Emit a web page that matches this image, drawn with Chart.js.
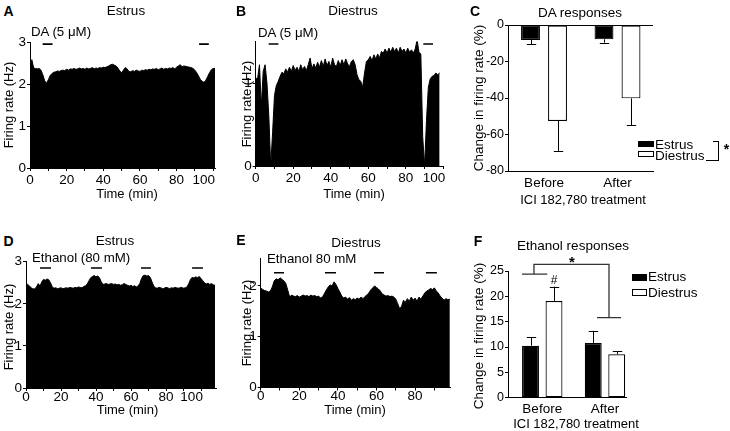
<!DOCTYPE html>
<html><head><meta charset="utf-8">
<script src="https://cdn.jsdelivr.net/npm/chart.js@4.4.1/dist/chart.umd.min.js"></script>
<style>
body{margin:0;background:#fff;}
#root{position:relative;width:730px;height:431px;overflow:hidden;font-family:"Liberation Sans",Arial,Helvetica,sans-serif;color:#000;background:#fff;}
canvas{position:absolute;}
.t{position:absolute;white-space:nowrap;transform:translate(-50%,-50%);line-height:1;}
.l{position:absolute;white-space:nowrap;transform:translate(0,-50%);line-height:1;}
.v{position:absolute;white-space:nowrap;transform:translate(-50%,-50%) rotate(-90deg);line-height:1;}
.box{position:absolute;box-sizing:border-box;}
</style></head><body><div id="root"></div>
<script>
// ---------------- DATA ----------------
// Firing-rate histograms (Hz), one value per minute
const estrusDA = [2.37,2.58,2.38,2.37,2.36,2.37,2.33,2.22,2.08,2.02,
 2.10,2.20,2.25,2.28,2.29,2.31,2.30,2.32,2.33,2.32,
 2.35,2.33,2.36,2.35,2.37,2.35,2.36,2.38,2.36,2.37,
 2.35,2.38,2.36,2.37,2.39,2.36,2.38,2.37,2.39,2.38,
 2.40,2.39,2.41,2.43,2.46,2.47,2.45,2.43,2.38,2.31,
 2.27,2.33,2.39,2.36,2.30,2.29,2.32,2.30,2.33,2.31,
 2.30,2.33,2.32,2.34,2.33,2.35,2.34,2.36,2.35,2.37,
 2.34,2.36,2.38,2.35,2.37,2.36,2.38,2.37,2.39,2.36,
 2.40,2.43,2.46,2.41,2.43,2.42,2.41,2.40,2.39,2.37,
 2.33,2.27,2.19,2.11,2.06,2.04,2.09,2.18,2.27,2.34,
 2.37,2.37];
const diestrusDA = [1.06,1.05,1.22,0.72,1.14,1.22,1.00,0.60,0.00,0.40,
 0.85,0.97,1.02,1.08,1.13,1.11,1.17,1.13,1.19,1.14,
 1.21,1.15,1.19,1.14,1.22,1.16,1.20,1.15,1.22,1.30,
 1.17,1.23,1.18,1.25,1.19,1.27,1.20,1.29,1.21,1.26,
 1.19,1.30,1.22,1.20,1.27,1.21,1.28,1.22,1.29,1.23,
 1.20,1.26,1.28,1.22,1.10,1.04,1.02,0.95,1.12,1.26,
 1.28,1.32,1.27,1.34,1.29,1.35,1.30,1.38,1.36,1.41,
 1.36,1.42,1.37,1.43,1.38,1.42,1.36,1.43,1.38,1.41,
 1.36,1.42,1.37,1.40,1.36,1.41,1.52,1.37,1.35,0.35,
 0.00,0.55,0.95,1.05,1.08,1.09,1.12,1.10,1.12];
const estrusEtOH = [2.48,2.46,2.42,2.38,2.35,2.36,2.40,2.48,2.42,2.52,
 2.58,2.56,2.59,2.57,2.50,2.40,2.37,2.38,2.36,2.37,
 2.38,2.36,2.37,2.38,2.37,2.39,2.38,2.37,2.39,2.38,
 2.40,2.39,2.38,2.41,2.43,2.47,2.55,2.62,2.65,2.67,
 2.64,2.66,2.62,2.52,2.46,2.47,2.48,2.46,2.47,2.48,
 2.46,2.47,2.45,2.46,2.44,2.45,2.48,2.46,2.44,2.42,
 2.44,2.41,2.43,2.40,2.42,2.48,2.60,2.67,2.68,2.66,
 2.67,2.63,2.52,2.42,2.38,2.37,2.39,2.38,2.36,2.37,
 2.39,2.38,2.36,2.38,2.37,2.39,2.38,2.37,2.38,2.39,
 2.37,2.38,2.40,2.48,2.58,2.63,2.61,2.64,2.62,2.65,
 2.60,2.55,2.50,2.47,2.49,2.46,2.48,2.45,2.44];
const diestrusEtOH = [1.96,1.93,1.91,1.90,1.88,1.90,1.98,2.10,2.14,2.12,
 2.16,2.13,2.10,2.05,1.92,1.78,1.82,1.80,1.79,1.81,
 1.78,1.80,1.82,1.80,1.81,1.79,1.82,1.80,1.81,1.79,
 1.80,1.76,1.78,1.85,1.92,1.98,2.02,2.00,2.08,2.03,
 1.95,1.88,1.80,1.76,1.78,1.74,1.77,1.72,1.75,1.73,
 1.76,1.74,1.78,1.75,1.79,1.82,1.86,1.92,1.96,2.00,
 1.97,1.94,1.90,1.84,1.82,1.80,1.81,1.79,1.80,1.78,
 1.74,1.65,1.55,1.60,1.72,1.68,1.75,1.70,1.78,1.72,
 1.76,1.70,1.78,1.74,1.80,1.86,1.90,1.92,1.95,1.93,
 1.96,1.90,1.86,1.80,1.76,1.72,1.75,1.73,1.74];

// Drug application periods (min)
const daEstrusApps = [[6.9,12.3],[92.3,97.6]];
const daDiestrusApps = [[6.9,12.1],[89.3,94.5]];
const etohEstrusApps = [[8.0,14.3],[37.1,43.4],[65.7,71.4],[94.9,101.1]];
const etohDiestrusApps = [[6.9,12.1],[33.3,39.0],[58.7,63.9],[85.6,91.3]];

// Summary bar data (% change), before/after ICI 182,780
const categories = ['Before','After'];
const daEstrusMean = [-8.2,-7.85];
const daEstrusSem = [2.4,1.85];
const daDiestrusMean = [-52.6,-40.2];
const daDiestrusSem = [16.4,14.6];
const etEstrusMean = [10.26,10.8];
const etEstrusSem = [1.65,2.4];
const etDiestrusMean = [19.07,8.56];
const etDiestrusSem = [2.85,0.65];
const seriesNames = ['Estrus','Diestrus'];

// ---------------- RENDER ----------------
const FONT = '"Liberation Sans", Arial, Helvetica, sans-serif';
Chart.defaults.font.family = FONT;
Chart.defaults.font.size = 13;
Chart.defaults.color = '#000';
const root = document.getElementById('root');

function addText(cls, x, y, s, size, extra) {
  const d = document.createElement('div');
  d.className = cls; d.textContent = s;
  d.style.left = x + 'px'; d.style.top = y + 'px';
  d.style.fontSize = size + 'px';
  if (extra) Object.assign(d.style, extra);
  root.appendChild(d);
}
function addBox(x, y, w, h, style) {
  const d = document.createElement('div');
  d.className = 'box';
  Object.assign(d.style, {left: x + 'px', top: y + 'px', width: w + 'px', height: h + 'px'}, style);
  root.appendChild(d);
}
function makeCanvas(a, yW, xH, padT, padR) {
  const c = document.createElement('canvas');
  const left = Math.round(a.l - yW), top = Math.round(a.t - padT);
  const w = Math.round(a.r + padR - left), h = Math.round(a.b + xH - top);
  c.width = w; c.height = h;
  c.style.left = left + 'px'; c.style.top = top + 'px';
  c.style.width = w + 'px'; c.style.height = h + 'px';
  root.appendChild(c);
  return {c, yW: a.l - left, xH: top + h - a.b, padT: a.t - top, padR: left + w - a.r};
}
function baseOptions(g, scales) {
  return {
    responsive: false, animation: false, devicePixelRatio: 1, events: [],
    layout: {padding: {top: g.padT, right: g.padR, left: 0, bottom: 0}},
    plugins: {legend: {display: false}, tooltip: {enabled: false}},
    scales
  };
}
const axisBorder = {display: true, color: '#000', width: 1};

// last label of the time axes sits slightly left of its tick in the original
const timeLabel = v => (v % 20 !== 0 ? '' : (v === 100 ? '100     ' : String(v)));

function timeChart(o) {
  const g = makeCanvas(o.area, 24, 28, 12, 16);
  const pts = o.values.map((v, i) => ({x: i, y: v}));
  const drug = [];
  o.drugs.forEach(([a, b]) => { drug.push({x: a, y: o.drugY}, {x: b, y: o.drugY}, {x: b, y: null}); });
  new Chart(g.c, {
    type: 'line',
    data: {datasets: [
      {data: pts, borderColor: '#000', backgroundColor: '#000', borderWidth: 1, fill: 'origin', pointRadius: 0, tension: 0},
      {data: drug, borderColor: '#000', borderWidth: 1.7, pointRadius: 0, fill: false, spanGaps: false, clip: false}
    ]},
    options: baseOptions(g, {
      x: {type: 'linear', min: 0, max: o.xMax, offset: false, afterFit: s => { s.height = g.xH; },
        border: axisBorder,
        grid: {display: true, drawOnChartArea: false, drawTicks: true, tickLength: 3, color: '#000', lineWidth: 1},
        ticks: {stepSize: 10, includeBounds: false, autoSkip: false, maxRotation: 0, padding: o.xPad,
          font: {size: 13.5}, callback: timeLabel}},
      y: {type: 'linear', min: 0, max: o.yMax, afterFit: s => { s.width = g.yW; },
        border: axisBorder,
        grid: {display: true, drawOnChartArea: false, drawTicks: true, tickLength: 3, color: '#000', lineWidth: 1},
        ticks: {stepSize: 1, includeBounds: false, padding: 1, font: {size: 13.5}}}
    })
  });
}

const errorBars = {
  id: 'errorBars',
  afterDatasetsDraw(chart) {
    const ctx = chart.ctx, ys = chart.scales.y;
    chart.data.datasets.forEach((ds, di) => {
      const meta = chart.getDatasetMeta(di);
      ds.sem.forEach((s, i) => {
        const el = meta.data[i];
        const m = ds.data[i].y;
        const end = ys.getPixelForValue(m < 0 ? m - s : m + s);
        const x = Math.round(el.x) + 0.5;
        ctx.save();
        ctx.strokeStyle = '#000'; ctx.lineWidth = 1;
        ctx.beginPath();
        ctx.moveTo(x, el.y); ctx.lineTo(x, end);
        ctx.moveTo(x - 4.7, Math.round(end) + 0.5); ctx.lineTo(x + 4.7, Math.round(end) + 0.5);
        ctx.stroke();
        ctx.restore();
      });
    });
  }
};

function barChart(o) {
  const g = makeCanvas(o.area, 30, 22, o.padT, 8);
  const mk = (i, means, sems, fill) => ({
    label: seriesNames[i],
    data: categories.map((c, k) => ({x: k + 1, y: means[k]})),
    sem: sems,
    backgroundColor: fill, borderColor: '#000', borderWidth: 1.2, borderSkipped: false,
    categoryPercentage: o.catPct, barPercentage: o.barPct
  });
  new Chart(g.c, {
    type: 'bar',
    data: {datasets: [mk(0, o.m1, o.s1, '#000'), mk(1, o.m2, o.s2, '#fff')]},
    options: baseOptions(g, {
      x: {type: 'linear', min: o.xMin, max: o.xMax, offset: false, afterFit: s => { s.height = g.xH; },
        afterBuildTicks: s => { s.ticks = categories.map((c, k) => ({value: k + 1})); },
        border: axisBorder,
        grid: {display: false, drawTicks: false, offset: false},
        ticks: {padding: o.xPad, maxRotation: 0, autoSkip: false, font: {size: 13.5}, callback: v => categories[v - 1] || ''}},
      y: {type: 'linear', min: o.yMin, max: o.yMax, afterFit: s => { s.width = g.yW; },
        border: axisBorder,
        grid: {display: true, drawOnChartArea: !!o.zeroLine, drawTicks: true, tickLength: 3,
          color: c => (c.tick && c.tick.value === 0 && o.zeroLine ? '#000' : 'rgba(0,0,0,0)'), tickColor: '#000', lineWidth: 1},
        ticks: {stepSize: o.yStep, padding: 1, font: {size: 12.5}}}
    }),
    plugins: [errorBars].concat(o.extra ? [o.extra] : [])
  });
}

// Panel A
timeChart({area: {l: 30, t: 42, r: 219.4, b: 168}, values: estrusDA, drugs: daEstrusApps, drugY: 2.95, xMax: 101, yMax: 3, xPad: 1});
// Panel B
timeChart({area: {l: 255.7, t: 41.5, r: 448.7, b: 166}, values: diestrusDA, drugs: daDiestrusApps, drugY: 1.47, xMax: 100, yMax: 1.5, xPad: 1});
// Panel D
timeChart({area: {l: 26, t: 261.7, r: 216.75, b: 388}, values: estrusEtOH, drugs: etohEstrusApps, drugY: 2.85, xMax: 109, yMax: 3, xPad: -2});
// Panel E
timeChart({area: {l: 260.7, t: 258, r: 450.8, b: 387.5}, values: diestrusEtOH, drugs: etohDiestrusApps, drugY: 2.26, xMax: 98.5, yMax: 2.55, xPad: -2});

// Panel C
barChart({area: {l: 508, t: 25, r: 653, b: 171}, m1: daEstrusMean, s1: daEstrusSem, m2: daDiestrusMean, s2: daDiestrusSem,
  xMin: 0.51, xMax: 2.483, catPct: 0.735, barPct: 0.70, yMin: -80, yMax: 0, yStep: 20, xPad: 4, zeroLine: true, padT: 12});

// Panel F significance marks
const sigF = {
  id: 'sigF',
  afterDraw(chart) {
    const ctx = chart.ctx, xs = chart.scales.x, ys = chart.scales.y;
    const X = v => xs.getPixelForValue(v), Y = v => ys.getPixelForValue(v);
    ctx.save();
    ctx.strokeStyle = '#333'; ctx.lineWidth = 1.3;
    ctx.beginPath();
    ctx.moveTo(X(0.677), Y(24.4)); ctx.lineTo(X(1.08), Y(24.4));
    ctx.moveTo(X(0.868), Y(24.4)); ctx.lineTo(X(0.868), Y(26.3)); ctx.lineTo(X(2.064), Y(26.3)); ctx.lineTo(X(2.064), Y(15.8));
    ctx.moveTo(X(1.873), Y(15.8)); ctx.lineTo(X(2.255), Y(15.8));
    ctx.stroke();
    ctx.fillStyle = '#000'; ctx.textAlign = 'center'; ctx.textBaseline = 'middle';
    ctx.font = 'bold 15px ' + FONT;
    ctx.fillText('*', X(1.474), Y(26.3) - 2);
    const el = chart.getDatasetMeta(1).data[0];
    ctx.font = '12px ' + FONT;
    ctx.fillText('#', el.x, Y(etDiestrusMean[0] + etDiestrusSem[0]) - 6);
    ctx.restore();
  }
};
// Panel F
barChart({area: {l: 508, t: 271, r: 626.7, b: 397.7}, m1: etEstrusMean, s1: etEstrusSem, m2: etDiestrusMean, s2: etDiestrusSem,
  xMin: 0.454, xMax: 2.346, catPct: 0.749, barPct: 0.72, yMin: 0, yMax: 25, yStep: 5, xPad: 3, zeroLine: false, extra: sigF, padT: 24});

// ---------------- TEXT ----------------
const B = {fontWeight: 'bold'};
addText('t', 8.5, 11, 'A', 14, B);
addText('t', 241, 11, 'B', 14, B);
addText('t', 475, 11, 'C', 14, B);
addText('t', 8.5, 241, 'D', 14, B);
addText('t', 241, 240, 'E', 14, B);
addText('t', 478, 241, 'F', 14, B);

addText('t', 126, 11, 'Estrus', 13.5);
addText('t', 353, 11, 'Diestrus', 13.5);
addText('t', 580, 13, 'DA responses', 13.5);
addText('t', 115, 241, 'Estrus', 13.5);
addText('t', 356, 243, 'Diestrus', 13.5);
addText('t', 573, 246, 'Ethanol responses', 13.5);

addText('l', 31, 32, 'DA (5 \u03BCM)', 13.3);
addText('l', 258, 33, 'DA (5 \u03BCM)', 13.3);
addText('l', 32, 258, 'Ethanol (80 mM)', 13.3);
addText('l', 267, 259, 'Ethanol 80 mM', 13.3);

addText('t', 127, 193, 'Time (min)', 13);
addText('t', 354, 193, 'Time (min)', 13);
addText('t', 127.5, 409, 'Time (min)', 13);
addText('t', 355, 409, 'Time (min)', 13);

addText('t', 583, 199, 'ICI 182,780 treatment', 13);
addText('t', 576, 423, 'ICI 182,780 treatment', 13);

addText('v', 8, 105, 'Firing rate (Hz)', 13);
addText('v', 246, 104, 'Firing rate (Hz)', 13);
addText('v', 7.5, 327, 'Firing rate (Hz)', 13);
addText('v', 246, 323, 'Firing rate (Hz)', 13);
addText('v', 478.5, 98, 'Change in firing rate (%)', 13.5);
addText('v', 478.5, 336, 'Change in firing rate (%)', 13.5);

// Legend C
addBox(638.3, 140.7, 15.7, 6.6, {background: '#000'});
addBox(638.3, 150.7, 15.7, 6.6, {background: '#fff', border: '1px solid #000'});
addText('l', 655, 145, seriesNames[0], 13.5);
addText('l', 655, 156, seriesNames[1], 13.5);
addBox(713.3, 141.2, 5.5, 1, {background: '#000'});
addBox(718, 141.2, 1, 19.3, {background: '#000'});
addBox(705.7, 159.5, 13.3, 1, {background: '#000'});
addText('t', 726.5, 149, '*', 14, B);

// Legend F
addBox(632, 274, 15, 7, {background: '#000'});
addBox(632, 289, 15, 7, {background: '#fff', border: '1px solid #000'});
addText('l', 648, 277, seriesNames[0], 13.5);
addText('l', 648, 292.5, seriesNames[1], 13.5);
</script>
</body></html>
